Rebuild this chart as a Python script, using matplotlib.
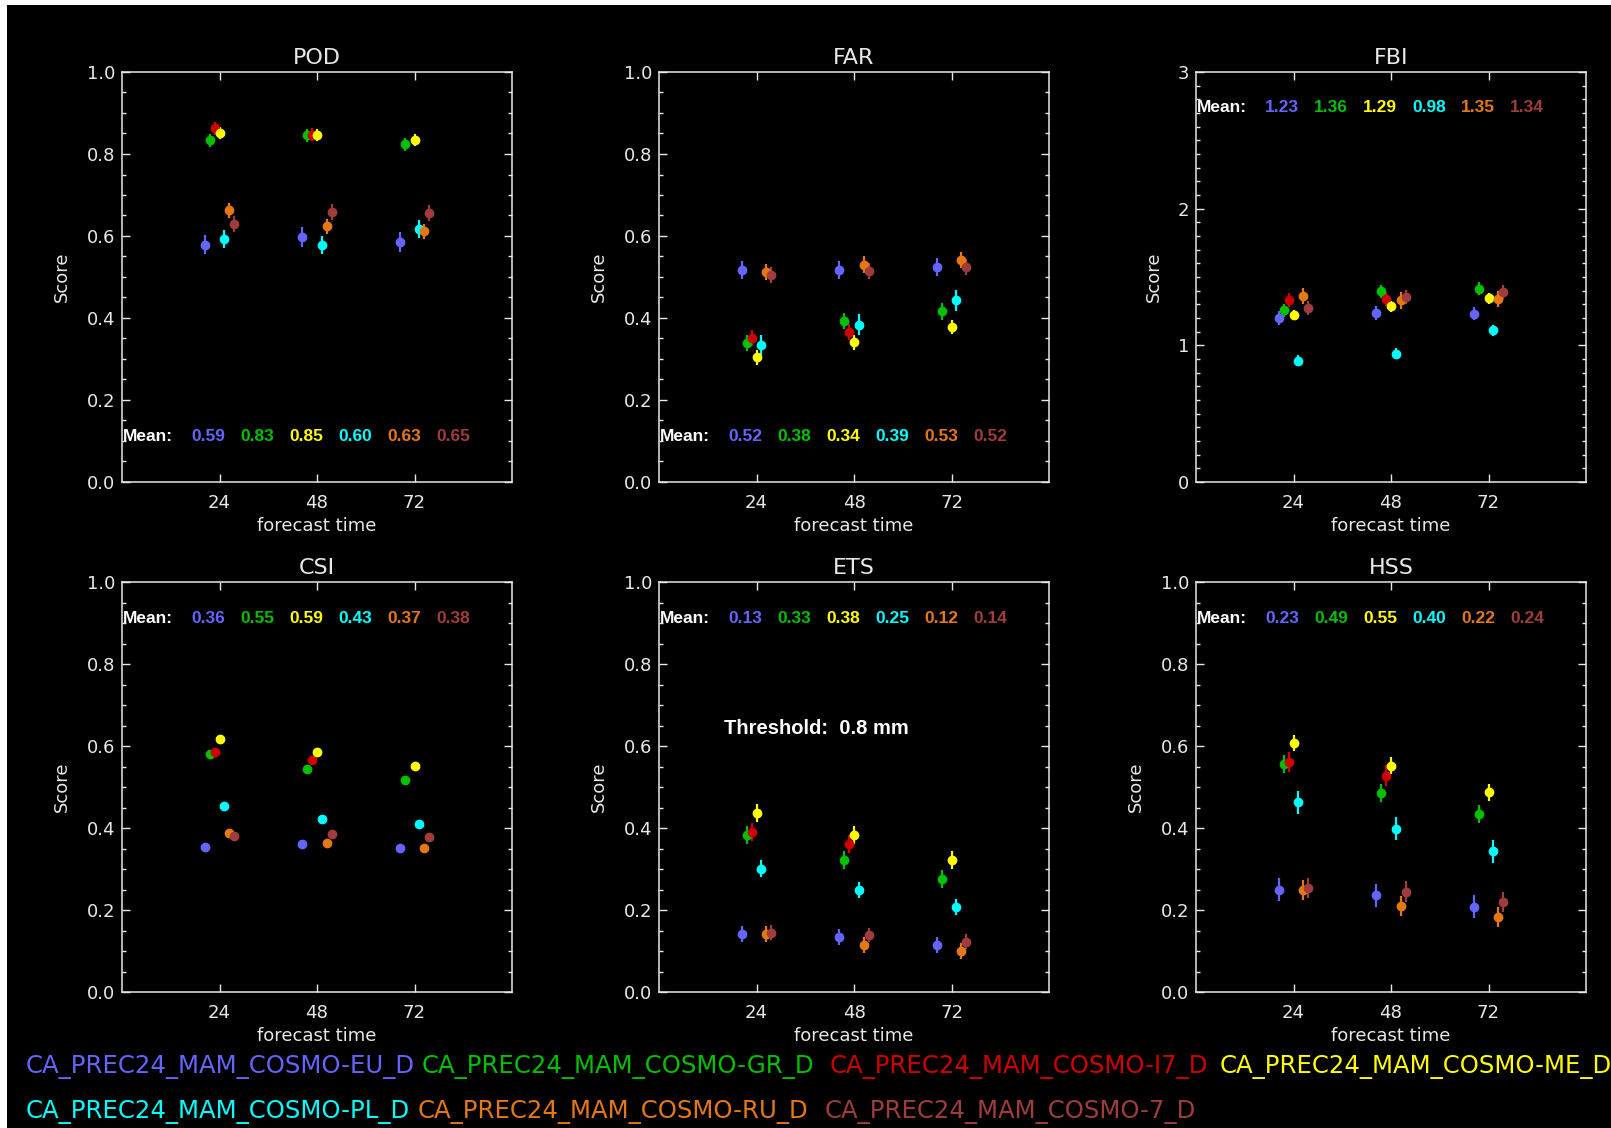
import matplotlib
matplotlib.use("Agg")
import matplotlib.pyplot as plt
import numpy as np

# forecast lead times and models
lead_times = [24, 48, 72]
models = ["CA_PREC24_MAM_COSMO-EU_D", "CA_PREC24_MAM_COSMO-GR_D", "CA_PREC24_MAM_COSMO-I7_D",
          "CA_PREC24_MAM_COSMO-ME_D", "CA_PREC24_MAM_COSMO-PL_D", "CA_PREC24_MAM_COSMO-RU_D",
          "CA_PREC24_MAM_COSMO-7_D"]
colors = ["#6464ff", "#00c000", "#d00000", "#ffff00", "#00ffff", "#e67814", "#a03c3c"]

# scores per lead time (rows) and model (cols); I7 has no 72h
pod = [[0.579, 0.833, 0.863, 0.851, 0.593, 0.663, 0.629],
       [0.597, 0.846, 0.847, 0.847, 0.579, 0.624, 0.659],
       [0.585, 0.824, np.nan, 0.835, 0.618, 0.611, 0.656]]
far = [[0.518, 0.339, 0.351, 0.304, 0.334, 0.512, 0.505],
       [0.516, 0.392, 0.366, 0.341, 0.384, 0.530, 0.514],
       [0.524, 0.416, np.nan, 0.378, 0.443, 0.542, 0.525]]
fbi = [[1.200, 1.256, 1.332, 1.222, 0.888, 1.363, 1.273],
       [1.237, 1.395, 1.341, 1.285, 0.939, 1.329, 1.356],
       [1.232, 1.415, np.nan, 1.346, 1.110, 1.341, 1.388]]
csi = [[0.354, 0.580, 0.586, 0.617, 0.453, 0.388, 0.380],
       [0.361, 0.543, 0.565, 0.586, 0.423, 0.364, 0.386],
       [0.352, 0.516, np.nan, 0.551, 0.410, 0.352, 0.378]]
ets = [[0.142, 0.384, 0.391, 0.437, 0.301, 0.142, 0.145],
       [0.134, 0.321, 0.360, 0.383, 0.249, 0.115, 0.139],
       [0.115, 0.276, np.nan, 0.322, 0.207, 0.100, 0.123]]
hss = [[0.249, 0.555, 0.561, 0.608, 0.463, 0.249, 0.254],
       [0.236, 0.486, 0.528, 0.552, 0.398, 0.210, 0.245],
       [0.208, 0.433, np.nan, 0.487, 0.343, 0.183, 0.220]]

# error bar half-widths per model
pod_err = [0.024, 0.016, 0.016, 0.015, 0.022, 0.018, 0.020]
far_err = [0.022, 0.020, 0.020, 0.018, 0.025, 0.020, 0.020]
fbi_err = [0.050, 0.050, 0.050, 0.040, 0.040, 0.060, 0.050]
csi_err = [0.004, 0.004, 0.004, 0.004, 0.004, 0.004, 0.004]
ets_err = [0.020, 0.022, 0.022, 0.022, 0.020, 0.020, 0.018]
hss_err = [0.028, 0.022, 0.025, 0.020, 0.028, 0.025, 0.025]

# mean values shown in each panel (I7 not listed)
mean_models = [0, 1, 3, 4, 5, 6]
pod_mean = ["0.59", "0.83", "0.85", "0.60", "0.63", "0.65"]
far_mean = ["0.52", "0.38", "0.34", "0.39", "0.53", "0.52"]
fbi_mean = ["1.23", "1.36", "1.29", "0.98", "1.35", "1.34"]
csi_mean = ["0.36", "0.55", "0.59", "0.43", "0.37", "0.38"]
ets_mean = ["0.13", "0.33", "0.38", "0.25", "0.12", "0.14"]
hss_mean = ["0.23", "0.49", "0.55", "0.40", "0.22", "0.24"]

score_ticks = [0.0, 0.2, 0.4, 0.6, 0.8, 1.0]
score_labels = ["0.0", "0.2", "0.4", "0.6", "0.8", "1.0"]
fbi_ticks = [0, 1, 2, 3]
fbi_labels = ["0", "1", "2", "3"]

panels = [
    ("POD", pod, pod_err, pod_mean, 1.0, 0.112),
    ("FAR", far, far_err, far_mean, 1.0, 0.112),
    ("FBI", fbi, fbi_err, fbi_mean, 3.0, 0.913),
    ("CSI", csi, csi_err, csi_mean, 1.0, 0.910),
    ("ETS", ets, ets_err, ets_mean, 1.0, 0.910),
    ("HSS", hss, hss_err, hss_mean, 1.0, 0.910),
]

W, H = 1611, 1128
fig = plt.figure(figsize=(W / 100, H / 100), dpi=100, facecolor="white")
# black canvas with thin white margin at top/left
fig.patches.append(plt.Rectangle((7 / W, 0), 1, 1 - 5 / H, transform=fig.transFigure,
                                 facecolor="black", edgecolor="none", zorder=-10))

lefts = [122, 659, 1196]
tops = [72, 582]
aw, ah = 390, 410
fg = "#e8e8e8"

for k, (name, data, err, means, ymax, mean_y) in enumerate(panels):
    r, c = divmod(k, 3)
    ax = fig.add_axes([lefts[c] / W, 1 - (tops[r] + ah) / H, aw / W, ah / H])
    ax.set_facecolor("black")
    data = np.array(data)
    for i in range(len(models)):
        x = np.array(lead_times) + (i - 3) * 1.2
        ax.errorbar(x, data[:, i], yerr=err[i], fmt="o", color=colors[i], ms=6,
                    elinewidth=1.6, capsize=0, mec=colors[i])
    ax.set_xlim(0, 96)
    ax.set_ylim(0, ymax)
    ax.set_xticks(lead_times)
    if ymax == 3.0:
        ax.set_yticks(fbi_ticks, fbi_labels)
        ax.set_yticks(np.arange(0, 3.01, 0.1), minor=True)
        ax.yaxis.set_label_coords(-0.085, 0.5)
    else:
        ax.set_yticks(score_ticks, score_labels)
        ax.set_yticks(np.arange(0, 1.001, 0.05), minor=True)
        ax.yaxis.set_label_coords(-0.131, 0.5)
    for sp in ax.spines.values():
        sp.set_color(fg)
        sp.set_linewidth(1.1)
    ax.tick_params(which="both", direction="in", colors=fg, top=True, right=True,
                   labelsize=13)
    ax.tick_params(which="major", length=6, width=1, pad=9)
    ax.tick_params(which="minor", length=3, width=1)
    ax.tick_params(axis="y", which="major", pad=5)
    ax.set_title(name, color=fg, fontsize=16, pad=6)
    ax.set_ylabel("Score", color=fg, fontsize=13)
    ax.set_xlabel("forecast time", color=fg, fontsize=13)
    ax.xaxis.set_label_coords(0.5, -0.085)

    ax.text(0.003, mean_y, "Mean:", transform=ax.transAxes, color="white", fontsize=12.5,
            fontweight="bold", family="Liberation Sans", va="center")
    for j, (m, txt) in enumerate(zip(mean_models, means)):
        ax.text(0.177 + j * 0.1256, mean_y, txt, transform=ax.transAxes, color=colors[m],
                fontsize=12.5, fontweight="bold", family="Liberation Sans", va="center")
    if name == "ETS":
        ax.text(0.167, 0.642, "Threshold:  0.8 mm", transform=ax.transAxes, color="white",
                fontsize=14.5, fontweight="bold", family="Liberation Sans", va="center")

# model legend rows at the bottom
legend_pos = [(26, 1067), (422, 1067), (830, 1067), (1220, 1067),
              (26, 1112), (418, 1112), (825, 1112)]
for name, col, (px, py) in zip(models, colors, legend_pos):
    fig.text(px / W, 1 - py / H, name, color=col, fontsize=17.6,
             family="DejaVu Sans", va="center", ha="left")

fig.savefig("out.png", dpi=100, facecolor=fig.get_facecolor())
